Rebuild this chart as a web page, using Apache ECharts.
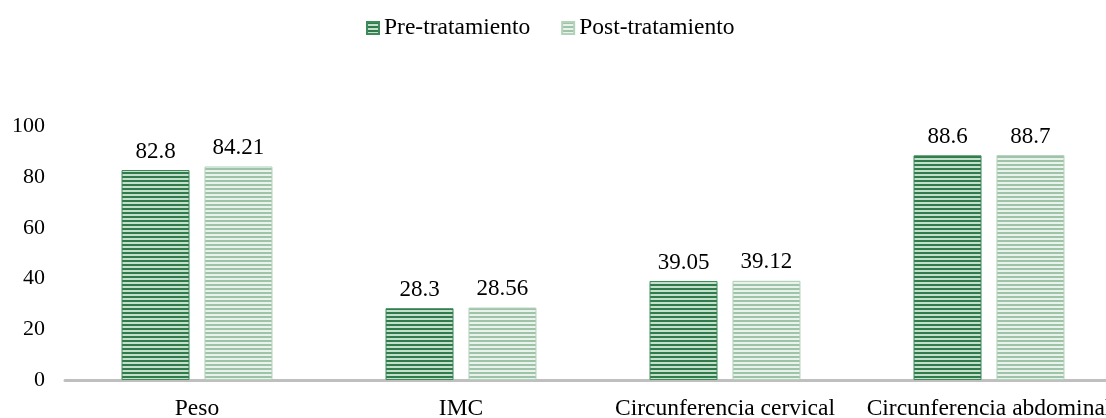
<!DOCTYPE html>
<html>
<head>
<meta charset="utf-8">
<script src="https://cdn.jsdelivr.net/npm/echarts@6/dist/echarts.min.js"></script>
<style>
  html, body { margin: 0; padding: 0; background: #fff; overflow: hidden; }
  #chart { width: 1106px; height: 418px; }
</style>
</head>
<body>
<div id="chart"></div>
<script>
const categories = ['Peso', 'IMC', 'Circunferencia cervical', 'Circunferencia abdominal'];
const seriesNames = ['Pre-tratamiento', 'Post-tratamiento'];
const preValues = [82.8, 28.3, 39.05, 88.6];
const postValues = [84.21, 28.56, 39.12, 88.7];
const yTicks = { min: 0, max: 100, interval: 20 };

// Horizontal striped fill used for the bars and legend swatches
function stripes(dark, light) {
  const c = document.createElement('canvas');
  c.width = 4; c.height = 4;
  const ctx = c.getContext('2d');
  ctx.fillStyle = light;
  ctx.fillRect(0, 0, 4, 4);
  ctx.fillStyle = dark;
  ctx.fillRect(0, 0, 4, 2);
  return { image: c, repeat: 'repeat' };
}

const font = 'Liberation Serif';
const preFill = stripes('#2f7b4c', '#c4dfcb');
const postFill = stripes('#9fc3a8', '#e9f3eb');

const chart = echarts.init(document.getElementById('chart'), null, { renderer: 'canvas' });

const labelStyle = {
  show: true,
  position: 'top',
  distance: 7,
  fontFamily: font,
  fontSize: 23,
  color: '#000'
};

chart.setOption({
  backgroundColor: '#fff',
  animation: false,
  legend: {
    data: seriesNames.map(name => ({ name, icon: 'rect' })),
    top: 11,
    left: 361,
    itemWidth: 12,
    itemHeight: 12,
    itemGap: 31,
    textStyle: { fontFamily: font, fontSize: 23.5, color: '#000' }
  },
  // the last category runs past the right edge of the canvas
  grid: {
    left: 65, width: 1056, top: 126.4, bottom: 38,
    containLabel: false,
    outerBoundsMode: 'none'
  },
  xAxis: {
    type: 'category',
    data: categories,
    axisLine: { lineStyle: { color: '#bfbfbf', width: 3 } },
    axisTick: { show: false },
    axisLabel: { fontFamily: font, fontSize: 23.5, color: '#000', margin: 17, interval: 0, hideOverlap: false }
  },
  yAxis: {
    type: 'value',
    min: yTicks.min,
    max: yTicks.max,
    interval: yTicks.interval,
    axisLine: { show: false },
    axisTick: { show: false },
    splitLine: { show: false },
    axisLabel: { fontFamily: font, fontSize: 22, color: '#000', margin: 20 }
  },
  series: [
    {
      name: seriesNames[0],
      type: 'bar',
      data: preValues,
      barWidth: 68,
      barGap: '22%',
      itemStyle: { color: preFill, borderColor: '#3d8a5a', borderWidth: 1 },
      label: labelStyle
    },
    {
      name: seriesNames[1],
      type: 'bar',
      data: postValues,
      barWidth: 68,
      barGap: '22%',
      itemStyle: { color: postFill, borderColor: '#b3d2bb', borderWidth: 1 },
      label: labelStyle
    }
  ]
});
</script>
</body>
</html>
